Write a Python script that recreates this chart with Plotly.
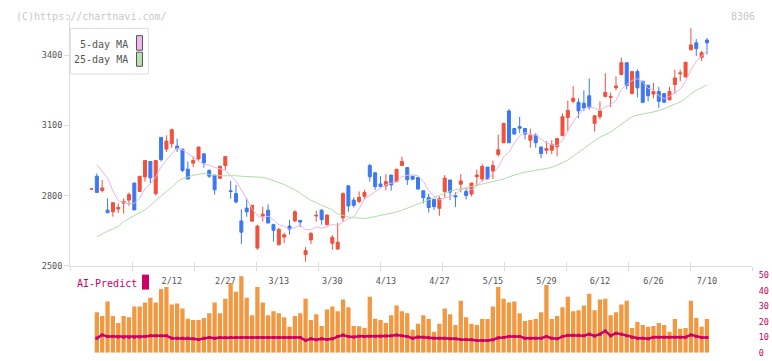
import plotly.graph_objects as go

# ---------------- data ----------------
idx = list(range(116))
opens = [2828,2883,2822,2738,2731,2743,2768,2781,2854,2818,2880,2946,2809,3049,2999,3022,3012,2999,2913,2939,
         2957,2979,2908,2888,2874,2929,2821,2809,2692,2747,2691,2576,2714,2738,2676,2590,2623,2670,2692,2694,
         2548,2611,2713,2738,2676,2597,2572,2705,2842,2781,2775,2797,2929,2898,2850,2842,2888,2860,2929,2920,
         2883,2878,2821,2792,2784,2746,2818,2867,2800,2849,2818,2807,2881,2871,2922,2905,2976,3026,3162,3087,
         3095,3087,3037,3058,3008,2994,2994,3009,3056,3134,3203,3199,3195,3227,3109,3137,3224,3220,3261,3318,
         3368,3236,3330,3289,3272,3234,3245,3236,3209,3275,3321,3307,3423,3453,3390,3465]
highs = [2829,2895,2867,2788,2770,2767,2788,2814,2854,2883,2950,2946,2950,3049,3058,3086,3044,2999,2946,2968,
         3008,2979,2913,2888,2929,2967,2863,2846,2742,2788,2759,2676,2753,2763,2680,2662,2642,2697,2738,2697,
         2580,2645,2735,2742,2720,2631,2684,2814,2842,2793,2818,2825,2936,2901,2883,2892,2888,2913,2966,2920,
         2883,2878,2821,2809,2784,2797,2888,2867,2814,2892,2829,2854,2911,2936,2922,2950,3061,3109,3170,3087,
         3137,3087,3086,3068,3008,3033,3037,3044,3151,3206,3268,3216,3250,3301,3144,3203,3323,3241,3310,3390,
         3368,3330,3340,3289,3272,3282,3265,3236,3265,3338,3338,3370,3515,3469,3418,3473]
lows = [2828,2814,2814,2727,2710,2726,2723,2756,2739,2818,2860,2853,2800,2946,2987,3005,2987,2901,2871,2922,
        2950,2920,2876,2805,2871,2908,2787,2767,2594,2710,2691,2569,2689,2683,2604,2590,2597,2634,2687,2666,
        2518,2593,2689,2676,2673,2569,2569,2689,2731,2749,2767,2784,2860,2825,2839,2822,2822,2860,2929,2845,
        2870,2828,2767,2728,2739,2714,2791,2781,2752,2814,2784,2797,2843,2860,2871,2871,2967,3026,3026,3063,
        3068,3040,3005,3005,2960,2977,2977,2968,3056,3076,3195,3130,3162,3167,3074,3126,3220,3178,3250,3314,
        3254,3233,3220,3195,3203,3216,3175,3199,3209,3236,3289,3307,3421,3397,3375,3403]
closes = [2829,2814,2833,2727,2770,2750,2775,2805,2739,2883,2950,2876,2950,2954,3033,3082,3001,2908,2871,2950,
          3008,2940,2883,2825,2925,2967,2818,2773,2644,2731,2759,2670,2721,2683,2652,2656,2633,2656,2731,2687,
          2565,2638,2716,2698,2717,2622,2601,2809,2756,2759,2793,2814,2881,2839,2839,2860,2846,2913,2946,2868,
          2870,2828,2791,2749,2753,2788,2875,2815,2795,2863,2801,2854,2888,2925,2871,2929,2996,3109,3026,3063,
          3088,3063,3058,3026,2980,3001,3019,3044,3137,3164,3216,3162,3175,3178,3141,3162,3241,3224,3269,3368,
          3271,3330,3261,3199,3227,3245,3203,3199,3245,3303,3324,3370,3444,3428,3411,3453]
ma5 = [None,2932,2905,2875,2820,2779,2771,2765,2768,2790,2830,2851,2880,2923,2953,2979,3004,2996,2979,2962,
       2948,2935,2930,2921,2916,2908,2884,2862,2825,2787,2745,2715,2705,2713,2697,2676,2669,2656,2666,2673,
       2654,2655,2667,2661,2667,2678,2671,2689,2701,2709,2744,2786,2801,2817,2833,2847,2853,2859,2881,2887,
       2889,2885,2861,2821,2798,2782,2791,2796,2805,2827,2830,2826,2840,2866,2868,2893,2922,2966,2986,3025,
       3056,3070,3060,3060,3043,3026,3017,3014,3036,3073,3116,3145,3171,3179,3174,3164,3179,3189,3207,3253,
       3275,3292,3300,3286,3258,3252,3227,3215,3224,3239,3255,3288,3337,3374,3395,3421]
ma25 = [None,2625,2638,2648,2658,2669,2690,2703,2716,2728,2740,2758,2778,2800,2818,2835,2858,2872,2881,2887,
        2891,2895,2890,2886,2885,2885,2886,2885,2883,2882,2881,2880,2878,2872,2864,2858,2848,2836,2825,2810,
        2795,2780,2770,2758,2750,2738,2722,2714,2709,2706,2704,2702,2706,2711,2715,2719,2725,2730,2738,2745,
        2755,2765,2772,2782,2792,2800,2810,2820,2826,2830,2834,2839,2844,2849,2853,2858,2865,2871,2880,2888,
        2895,2900,2903,2907,2912,2916,2921,2930,2940,2952,2968,2985,3003,3020,3035,3050,3060,3072,3088,3105,
        3120,3138,3144,3148,3152,3158,3164,3171,3182,3192,3200,3215,3235,3250,3262,3273]
ai_bars = [None,26,23.6,33,23.6,19.2,23.6,22.9,29.8,29.8,32.3,35.4,32.3,41,42.3,31,31.7,28.5,21.9,21,
           21,22.3,25.4,32.3,25.4,34.8,44.8,39.2,49.2,35.4,24.2,42.3,32.3,24.2,26.7,25.4,22.9,16.7,23.6,25.4,
           34.8,21,24.8,17.3,27.9,29.8,26.7,34.2,29.2,17.3,17,16,36,21.9,21,19.2,24.2,30.4,26.7,25.4,
           14.8,18.6,24.2,21.7,13.6,18.6,28.5,24.8,17.9,33.5,22.9,18.6,17.9,21.7,21.7,29.8,42.3,34.8,32.3,33,
           25.4,20.4,21,21.7,26,43.6,21.7,23.6,29.2,36,26.7,27.3,30.4,37.9,27.3,34.2,34.8,24.2,26,31,
           33.5,16,19.8,17.9,16.7,17.3,19.2,17.9,13.6,21.7,15.4,16,33.5,22.3,16.7,21.7]
ai_line = [None,9.4,11.5,10.4,10.4,10.2,10.0,10.0,10.0,10.2,10.4,11.0,11.0,11.0,11.0,9.4,9.4,9.4,9.4,9.0,
           8.6,9.4,9.8,9.4,9.8,9.6,9.8,9.8,9.8,9.8,9.8,9.8,9.8,9.8,9.8,9.8,9.8,9.8,9.8,9.8,
           8.0,9.0,8.4,9.0,8.6,9.0,10.4,11.4,10.4,10.2,10.6,10.4,10.6,10.6,10.6,10.8,11.0,11.4,11.0,10.4,
           9.4,10.2,10.0,9.6,9.4,9.4,9.4,9.0,9.0,8.6,8.6,8.4,7.9,7.9,7.9,8.4,9.6,9.8,10.4,10.4,
           10.4,9.4,9.4,9.4,9.4,10.4,9.4,9.0,10.4,11.2,11.2,11.2,11.0,12.0,10.8,12.0,14.0,11.0,12.6,12.0,
           11.0,10.0,9.4,9.4,9.0,10.0,10.0,10.0,10.0,10.0,10.0,10.0,11.5,10.4,9.8,9.8]
label_idx = [15,25,35,45,55,65,75,85,95,105,115]
label_text = ["2/12","2/27","3/13","3/30","4/13","4/27","5/15","5/29","6/12","6/26","7/10"]
price_ticks = [2500,2800,3100,3400]
ai_ticks = [0,10,20,30,40,50]

# ---------------- layout geometry ----------------
W, H = 772, 361
XL, XR = 70, 752
X0, DX = 91.5, 5.352
xr = [(XL - X0) / DX, (XR - X0) / DX]
div_ticks = [xr[0] + (xr[1] - xr[0]) * k / 11 for k in range(12)]
y_bot_px, y_top_px, ppy = 268.3, 10, 0.2407
yrange = [2500, 2500 + (y_bot_px - y_top_px) / ppy]
xdom = [XL / W, XR / W]

RED, BLUE = "#f0503c", "#3c78f0"
MONO = "DejaVu Sans Mono"
TICKSZ = 8.5

fig = go.Figure()
fig.add_trace(go.Candlestick(
    x=idx, open=opens, high=highs, low=lows, close=closes,
    increasing=dict(line=dict(color=RED, width=1), fillcolor=RED),
    decreasing=dict(line=dict(color=BLUE, width=1), fillcolor=BLUE),
    whiskerwidth=0, xaxis="x", yaxis="y", showlegend=False, hoverinfo="skip"))
fig.add_trace(go.Scatter(x=idx, y=ma5, mode="lines", line=dict(color="#e6b4ea", width=1),
                         xaxis="x2", yaxis="y", showlegend=False, hoverinfo="skip"))
fig.add_trace(go.Scatter(x=idx, y=ma25, mode="lines", line=dict(color="#b0dca8", width=1),
                         xaxis="x3", yaxis="y", showlegend=False, hoverinfo="skip"))
fig.add_trace(go.Bar(x=idx, y=ai_bars, marker=dict(color="#f29840", line=dict(width=0)), width=0.8,
                     xaxis="x4", yaxis="y2", showlegend=False, hoverinfo="skip"))
fig.add_trace(go.Scatter(x=idx, y=ai_line, mode="lines+markers",
                         line=dict(color="#cc0066", width=2.5),
                         marker=dict(symbol="square", size=3, color="#cc0066"),
                         xaxis="x4", yaxis="y2", showlegend=False, hoverinfo="skip"))

axis_common = dict(range=xr, domain=xdom, showgrid=False, zeroline=False, fixedrange=True)
fig.update_layout(
    width=W, height=H, margin=dict(l=0, r=0, t=0, b=0),
    paper_bgcolor="white", plot_bgcolor="white",
    font=dict(family=MONO, size=TICKSZ, color="#555555"),
    boxgap=0.2,
    xaxis=dict(**axis_common, anchor="y", showline=True, linecolor="#dddddd", linewidth=1,
               tickmode="array", tickvals=div_ticks, ticks="outside", ticklen=4,
               tickcolor="#dddddd", showticklabels=False, rangeslider=dict(visible=False)),
    xaxis2=dict(**axis_common, anchor="y", overlaying="x", showline=False,
                tickmode="array", tickvals=label_idx, ticktext=label_text,
                ticks="outside", ticklen=7, tickcolor="rgba(0,0,0,0)",
                tickfont=dict(family=MONO, size=TICKSZ, color="#555555")),
    xaxis3=dict(**axis_common, anchor="y", overlaying="x", showline=False,
                tickmode="array", tickvals=div_ticks, ticks="inside", ticklen=4,
                tickcolor="#dddddd", showticklabels=False),
    xaxis4=dict(**axis_common, anchor="y2", visible=False),
    yaxis=dict(range=yrange, domain=[(H - y_bot_px) / H, (H - y_top_px) / H],
               showgrid=False, zeroline=False, showline=True, linecolor="#dddddd",
               tickmode="array", tickvals=price_ticks, ticks="outside", ticklen=5,
               tickcolor="#dddddd", tickfont=dict(family=MONO, size=TICKSZ, color="#555555"),
               fixedrange=True),
    yaxis2=dict(range=[0, 50], domain=[(H - 357.7) / H, (H - 277.7) / H], side="right",
                anchor="x4", showgrid=False, zeroline=False, showline=False,
                tickmode="array", tickvals=ai_ticks, ticks="outside", ticklen=4,
                tickcolor="rgba(0,0,0,0)", tickfont=dict(family=MONO, size=TICKSZ, color="#cc0066"),
                fixedrange=True),
    bargap=0.2,
)

def px(xp):
    return xp / W

def py(yp):
    return 1 - yp / H

shapes = [
    dict(type="rect", xref="paper", yref="paper", x0=px(70.3), x1=px(148.3), y0=py(71), y1=py(24),
         line=dict(color="#dddddd", width=1), fillcolor="white"),
    dict(type="rect", xref="paper", yref="paper", x0=px(136.5), x1=px(142.5), y0=py(46.5), y1=py(31.5),
         line=dict(color="#555555", width=1), fillcolor="#f0b8f0"),
    dict(type="rect", xref="paper", yref="paper", x0=px(136.5), x1=px(142.5), y0=py(63), y1=py(48.5),
         line=dict(color="#555555", width=1), fillcolor="#b8e0b0"),
    dict(type="rect", xref="paper", yref="paper", x0=px(142), x1=px(149), y0=py(292.7), y1=py(277.3),
         line=dict(width=0), fillcolor="#cc0066"),
]
annotations = [
    dict(text="(C)https://chartnavi.com/", xref="paper", yref="paper", x=px(14), y=py(12),
         xanchor="left", yanchor="middle", showarrow=False,
         font=dict(family=MONO, size=10, color="#c8c8c8")),
    dict(text="8306", xref="paper", yref="paper", x=px(757), y=py(12),
         xanchor="right", yanchor="middle", showarrow=False,
         font=dict(family=MONO, size=10, color="#c8c8c8")),
    dict(text="5-day MA", xref="paper", yref="paper", x=px(130), y=py(40.5),
         xanchor="right", yanchor="middle", showarrow=False,
         font=dict(family=MONO, size=10, color="#555555")),
    dict(text="25-day MA", xref="paper", yref="paper", x=px(130), y=py(56.5),
         xanchor="right", yanchor="middle", showarrow=False,
         font=dict(family=MONO, size=10, color="#555555")),
    dict(text="AI-Predict", xref="paper", yref="paper", x=px(75), y=py(286),
         xanchor="left", yanchor="middle", showarrow=False,
         font=dict(family=MONO, size=10, color="#cc0066")),
]
fig.update_layout(shapes=shapes, annotations=annotations)

fig.write_html("out.html", config={"displayModeBar": False, "staticPlot": True})
